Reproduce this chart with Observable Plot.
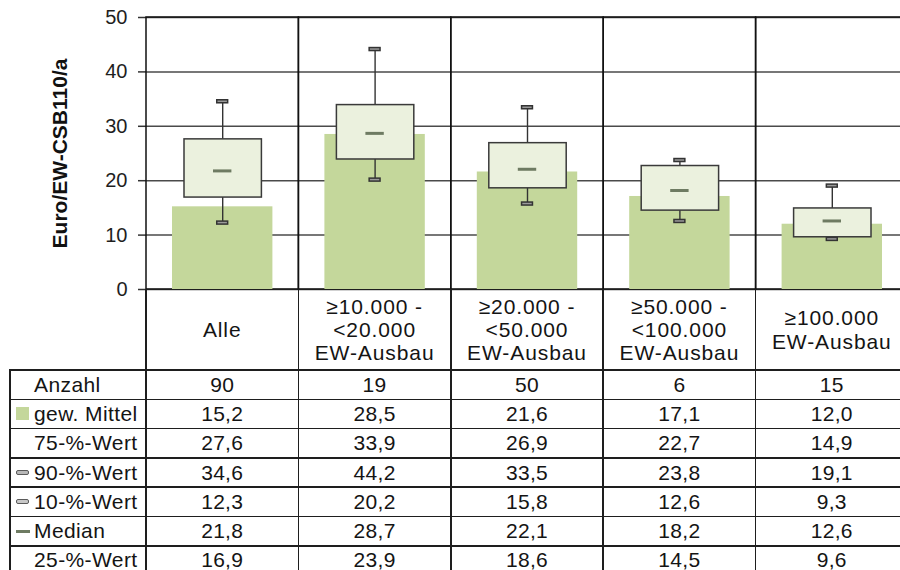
<!DOCTYPE html>
<html>
<head>
<meta charset="utf-8">
<script src="https://cdn.jsdelivr.net/npm/d3@7"></script>
<script src="https://cdn.jsdelivr.net/npm/@observablehq/plot@0.6"></script>
<style>
  html, body { margin: 0; padding: 0; background: #fff; overflow: hidden; width: 900px; height: 570px; }
  body { font-family: "Liberation Sans", Arial, sans-serif; color: #141414; position: relative; }
  #chart { position: absolute; left: 0; top: 0; width: 908px; }
  #chart svg { max-width: none !important; }
  #tbl { position: absolute; left: 0; top: 0; width: 900px; height: 570px; }
  .ln { position: absolute; background: #1e1e1e; }
  .cell { position: absolute; display: flex; align-items: center; justify-content: center; text-align: center; white-space: nowrap; font-size: 21px; letter-spacing: 0.3px; }
  .lab { font-size: 21px; line-height: 23.3px; letter-spacing: 0.9px; }
  .rname { position: absolute; white-space: nowrap; font-size: 21px; letter-spacing: 0.4px; display: flex; align-items: center; }
  .mk { position: absolute; }
</style>
</head>
<body>
<div id="chart"></div>
<div id="tbl"></div>
<script>
// ---- data ----
const keys = ["Alle", "10-20", "20-50", "50-100", "100+"];
const catLabels = ["Alle", "≥10.000 -\n<20.000\nEW-Ausbau", "≥20.000 -\n<50.000\nEW-Ausbau", "≥50.000 -\n<100.000\nEW-Ausbau", "≥100.000\nEW-Ausbau"];
const anzahl = [90, 19, 50, 6, 15];
const mittel = [15.2, 28.5, 21.6, 17.1, 12.0];
const p75 = [27.6, 33.9, 26.9, 22.7, 14.9];
const p90 = [34.6, 44.2, 33.5, 23.8, 19.1];
const p10 = [12.3, 20.2, 15.8, 12.6, 9.3];
const median = [21.8, 28.7, 22.1, 18.2, 12.6];
const p25 = [16.9, 23.9, 18.6, 14.5, 9.6];
const yTicks = [0, 10, 20, 30, 40, 50];
const yTitle = "Euro/EW-CSB110/a";
const rowNames = ["Anzahl", "gew. Mittel", "75-%-Wert", "90-%-Wert", "10-%-Wert", "Median", "25-%-Wert"];

const data = keys.map((k, i) => ({key: k, n: anzahl[i], mittel: mittel[i], p75: p75[i], p90: p90[i], p10: p10[i], median: median[i], p25: p25[i]}));

const barColor = "#c4d79b";
const boxColor = "#ebf1de";
const medColor = "#6e7b62";

const chart = Plot.plot({
  width: 908,
  height: 290,
  marginLeft: 146,
  marginRight: 0,
  marginTop: 17,
  marginBottom: 1,
  style: {fontSize: "20px", fontFamily: "Liberation Sans, Arial, sans-serif", color: "#1e1e1e", background: "transparent", overflow: "visible", maxWidth: "none"},
  x: {domain: keys, padding: 0, axis: null, round: false},
  y: {domain: [0, 50]},
  marks: [
    Plot.axisY({ticks: yTicks, tickSize: 8, tickPadding: 11, label: null, stroke: "#333", strokeWidth: 1.5}),
    Plot.ruleY(yTicks, {stroke: "#4a4a4a", strokeWidth: 1.5}),
    Plot.barY(keys, {x: d => d, y1: 0, y2: 50, fill: "none", stroke: "#111", strokeWidth: 1.5}),
    Plot.barY(data, {x: "key", y: "mittel", fill: barColor, insetLeft: 26, insetRight: 26}),
    Plot.ruleX(data, {x: "key", y1: "p75", y2: "p90", stroke: "#333", strokeWidth: 1.4}),
    Plot.ruleX(data, {x: "key", y1: "p10", y2: "p25", stroke: "#333", strokeWidth: 1.4}),
    Plot.tickY(data, {x: "key", y: "p90", stroke: "#333", strokeWidth: 4.5, insetLeft: 70, insetRight: 70}),
    Plot.tickY(data, {x: "key", y: "p90", stroke: "#9a9a9a", strokeWidth: 1.5, insetLeft: 71.5, insetRight: 71.5}),
    Plot.tickY(data, {x: "key", y: "p10", stroke: "#333", strokeWidth: 4.5, insetLeft: 70, insetRight: 70}),
    Plot.tickY(data, {x: "key", y: "p10", stroke: "#9a9a9a", strokeWidth: 1.5, insetLeft: 71.5, insetRight: 71.5}),
    Plot.barY(data, {x: "key", y1: "p25", y2: "p75", fill: boxColor, stroke: "#3a3a3a", strokeWidth: 1.5, insetLeft: 38, insetRight: 37}),
    Plot.tickY(data, {x: "key", y: "median", stroke: medColor, strokeWidth: 3, insetLeft: 67, insetRight: 67}),
    Plot.text([yTitle], {frameAnchor: "left", dx: -86, rotate: -90, textAnchor: "middle", fontWeight: "bold", fontSize: 21, fill: "#111"})
  ]
});
document.getElementById("chart").appendChild(chart);

// ---- table, aligned to the chart's x scale ----
const xs = chart.scale("x");
const ys = chart.scale("y");
const bw = xs.bandwidth;
const colX = keys.map(k => xs.apply(k));
const tableLeft = 10;
const axisBottom = ys.apply(0);
const labTop = axisBottom;
const rowTop = 370;
const rowH = 29.3;
const nRows = rowNames.length;
const fmt = v => v.toFixed(1).replace(".", ",");
const tbl = document.getElementById("tbl");
function add(cls, style, html) {
  const d = document.createElement("div");
  d.className = cls;
  Object.assign(d.style, style);
  if (html != null) d.innerHTML = html;
  tbl.appendChild(d);
  return d;
}
const lw = 1.5;
// category label row
catLabels.forEach((l, i) => {
  add("cell lab", {left: colX[i] + "px", top: labTop + "px", width: bw + "px", height: (rowTop - labTop) + "px"}, l.split("\n").join("<br>"));
});
// vertical lines
colX.forEach(x => add("ln", {left: (x - lw / 2) + "px", top: labTop + "px", width: lw + "px", height: (570 - labTop + 10) + "px"}));
add("ln", {left: (colX[4] + bw - lw / 2) + "px", top: labTop + "px", width: lw + "px", height: (570 - labTop + 10) + "px"});
add("ln", {left: (tableLeft - lw / 2) + "px", top: rowTop + "px", width: lw + "px", height: (570 - rowTop + 10) + "px"});
// horizontal lines
for (let r = 0; r <= nRows; r++) {
  add("ln", {left: (tableLeft - lw / 2) + "px", top: (rowTop + r * rowH - lw / 2) + "px", width: (colX[4] + bw - tableLeft + lw) + "px", height: lw + "px"});
}
const rowVals = [anzahl.map(String), mittel.map(fmt), p75.map(fmt), p90.map(fmt), p10.map(fmt), median.map(fmt), p25.map(fmt)];
const markers = [null,
  {width: "13px", height: "13px", background: barColor},
  null,
  {width: "11px", height: "3px", border: "1px solid #5a5a5a", borderRadius: "2px", background: "#b8b8b8"},
  {width: "11px", height: "3px", border: "1px solid #5a5a5a", borderRadius: "2px", background: "#c8c8c8"},
  {width: "14px", height: "3px", background: medColor},
  null];
rowNames.forEach((name, r) => {
  const top = rowTop + r * rowH;
  add("rname", {left: "34px", top: top + "px", height: rowH + "px"}, name);
  if (markers[r]) {
    const h = parseFloat(markers[r].height) + (markers[r].border ? 2 : 0);
    add("mk", Object.assign({left: "16px", top: (top + rowH / 2 - h / 2) + "px", boxSizing: "content-box"}, markers[r]));
  }
  rowVals[r].forEach((v, i) => {
    add("cell", {left: colX[i] + "px", top: top + "px", width: bw + "px", height: rowH + "px"}, v);
  });
});
</script>
</body>
</html>
